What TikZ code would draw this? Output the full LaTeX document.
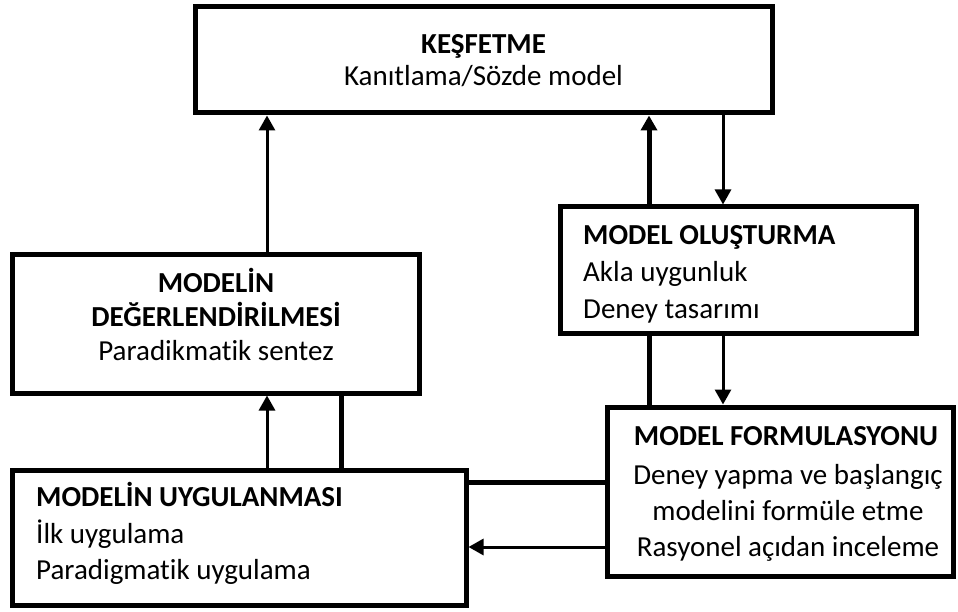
\documentclass[tikz,border=0pt]{standalone}
\usepackage{fontspec}
\setmainfont{Carlito}[Ligatures=NoCommon]
\usetikzlibrary{arrows.meta}
\begin{document}
\begin{tikzpicture}[x=1pt,y=-1pt,
  box/.style={draw,line width=5pt,inner sep=0pt},
  thickln/.style={line width=5pt},
  thinln/.style={line width=3pt},
  arr/.style={-{Triangle[length=15pt,width=16pt]}},
  hd/.style={font=\fontsize{29}{34}\selectfont\bfseries,inner sep=0pt},
  tx/.style={font=\fontsize{29}{34}\selectfont,inner sep=0pt}]
\useasboundingbox (0,0) rectangle (958,612);
% boxes
\node[box,minimum width=577pt,minimum height=106pt] (top) at (483.5,60) {};
\node[box,minimum width=407pt,minimum height=138pt] (eval) at (215.5,324) {};
\node[box,minimum width=356pt,minimum height=126pt] (olus) at (738,270) {};
\node[box,minimum width=346pt,minimum height=169pt] (form) at (780,491.5) {};
\node[box,minimum width=454pt,minimum height=135pt] (uyg) at (239,537.5) {};
% texts
\node[hd,anchor=base] (t1) at (483.5,54) {KEŞFETME};
\node[tx,anchor=base] (t2) at (483.5,86) {Kanıtlama/Sözde model};
\node[hd,anchor=base] (e1) at (216,293) {MODELİN};
\node[hd,anchor=base] (e2) at (216,326) {DEĞERLENDİRİLMESİ};
\node[tx,anchor=base] (e3) at (216,360) {Paradikmatik sentez};
\node[hd,anchor=base west] (o1) at (583,245) {MODEL OLUŞTURMA};
\node[tx,anchor=base west] (o2) at (583,282) {Akla uygunluk};
\node[tx,anchor=base west] (o3) at (583,318) {Deney tasarımı};
\node[hd,anchor=base] (f1) at (786,445) {MODEL FORMULASYONU};
\node[tx,anchor=base] (f2) at (788,484) {Deney yapma ve başlangıç};
\node[tx,anchor=base] (f3) at (788,520) {modelini formüle etme};
\node[tx,anchor=base] (f4) at (788,556) {Rasyonel açıdan inceleme};
\node[hd,anchor=base west] (u1) at (36,506) {MODELİN UYGULANMASI};
\node[tx,anchor=base west] (u2) at (36,543) {İlk uygulama};
\node[tx,anchor=base west] (u3) at (36,579) {Paradigmatik uygulama};
% connector positions
\coordinate (xa) at (267,0);
\coordinate (xb) at (341,0);
\coordinate (xc) at (649,0);
\coordinate (xd) at (723,0);
\coordinate (ya) at (0,482);
\coordinate (yb) at (0,547);
% connectors
\draw[thinln,arr] (eval.north -| xa) -- (top.south -| xa);
\draw[thickln,arr] (olus.north -| xc) -- (top.south -| xc);
\draw[thinln,arr] (top.south -| xd) -- (olus.north -| xd);
\draw[thickln] (olus.south -| xc) -- (form.north -| xc);
\draw[thinln,arr] (olus.south -| xd) -- (form.north -| xd);
\draw[thickln] (form.west |- ya) -- (uyg.east |- ya);
\draw[thinln,arr] (form.west |- yb) -- (uyg.east |- yb);
\draw[thinln,arr] (uyg.north -| xa) -- (eval.south -| xa);
\draw[thickln] (uyg.north -| xb) -- (eval.south -| xb);
\end{tikzpicture}
\end{document}
